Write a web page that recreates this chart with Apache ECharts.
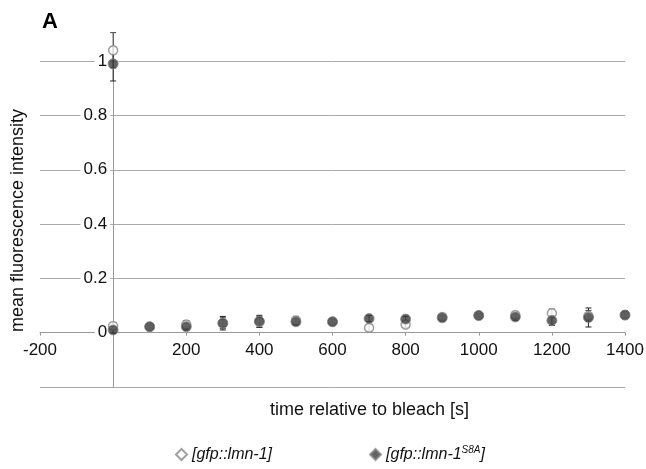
<!DOCTYPE html>
<html>
<head>
<meta charset="utf-8">
<script src="https://cdn.jsdelivr.net/npm/echarts@6/dist/echarts.min.js"></script>
<style>html,body{margin:0;padding:0;background:#fff;}#chart{width:646px;height:469px;}</style>
</head>
<body>
<div id="chart"></div>
<script>
// time points (first two both at 0: pre-bleach and post-bleach)
var times = [0, 0, 100, 200, 300, 400, 500, 600, 700, 800, 900, 1000, 1100, 1200, 1300, 1400];
var lmn1Values = [1.04, 0.025, 0.022, 0.03, 0.035, 0.04, 0.045, 0.04, 0.018, 0.03, 0.058, 0.063, 0.065, 0.072, 0.062, 0.065];
var lmn1Errors = [0.065, 0.012, 0.006, 0.015, 0.02, 0.02, 0.015, 0.008, 0.012, 0.01, 0.008, 0.006, 0.012, 0.015, 0.02, 0.01];
var s8aValues = [0.99, 0.01, 0.022, 0.022, 0.035, 0.042, 0.04, 0.04, 0.052, 0.05, 0.055, 0.063, 0.058, 0.045, 0.056, 0.065];
var s8aErrors = [0.063, 0.012, 0.005, 0.012, 0.025, 0.022, 0.012, 0.008, 0.012, 0.01, 0.008, 0.006, 0.012, 0.018, 0.035, 0.015];
var seriesNames = ['[gfp::lmn-1]', '[gfp::lmn-1S8A]'];
var xTickLabels = ['-200', '200', '400', '600', '800', '1000', '1200', '1400'];
var yTickLabels = ['0', '0.2', '0.4', '0.6', '0.8', '1'];

var FONT = 'Liberation Sans, Arial, Helvetica, sans-serif';

function pts(vals) { return times.map(function (t, i) { return [t, vals[i]]; }); }
function errPts(vals, errs) { return times.map(function (t, i) { return [t, vals[i] - errs[i], vals[i] + errs[i]]; }); }

function errRender(color) {
  return function (params, api) {
    var x = api.value(0);
    var lo = api.coord([x, api.value(1)]);
    var hi = api.coord([x, api.value(2)]);
    var w = 3;
    var st = { stroke: color, lineWidth: 1 };
    return {
      type: 'group',
      children: [
        { type: 'line', shape: { x1: lo[0], y1: lo[1], x2: hi[0], y2: hi[1] }, style: st },
        { type: 'line', shape: { x1: lo[0] - w, y1: lo[1], x2: lo[0] + w, y2: lo[1] }, style: st },
        { type: 'line', shape: { x1: hi[0] - w, y1: hi[1], x2: hi[0] + w, y2: hi[1] }, style: st }
      ]
    };
  };
}

var GRID = { left: 40, right: 21, top: 34, bottom: 82 };
var W = 646, H = 469;
// axis offsets so that each axis sits at the other axis' zero
var xMin = -200, xMax = 1400, yMin = -0.2, yMax = 1.1;
var yAxisOffset = -((0 - xMin) / (xMax - xMin)) * (W - GRID.left - GRID.right);
var xAxisOffset = -((0 - yMin) / (yMax - yMin)) * (H - GRID.top - GRID.bottom);

var chart = echarts.init(document.getElementById('chart'), null, { renderer: 'canvas' });
chart.setOption({
  backgroundColor: '#fff',
  animation: false,
  textStyle: { fontFamily: FONT },
  title: { text: 'A', left: 37, top: 6, textStyle: { fontSize: 22, fontWeight: 'bold', color: '#000', fontFamily: FONT } },
  grid: { left: GRID.left, right: GRID.right, top: GRID.top, bottom: GRID.bottom, containLabel: false, outerBoundsMode: 'none' },
  legend: {
    left: 170, top: 440, itemGap: 97, itemWidth: 11, itemHeight: 11,
    data: [
      { name: seriesNames[0], icon: 'diamond' },
      { name: seriesNames[1], icon: 'diamond' }
    ],
    formatter: function (n) {
      if (n === seriesNames[1]) return '{i|[gfp::lmn-1}{s|S8A}{i|]}';
      return '{i|' + n + '}';
    },
    textStyle: {
      rich: {
        i: { fontSize: 16, fontStyle: 'italic', color: '#111', fontFamily: FONT },
        s: { fontSize: 10, fontStyle: 'italic', color: '#111', fontFamily: FONT, verticalAlign: 'bottom', padding: [0, 0, 9, 0] }
      }
    }
  },
  xAxis: {
    type: 'value', min: xMin, max: xMax, interval: 200,
    position: 'bottom', offset: xAxisOffset,
    name: 'time relative to bleach [s]', nameLocation: 'middle', nameGap: 68,
    nameTextStyle: { fontSize: 18, color: '#111', fontFamily: FONT, padding: [0, 0, 0, 74] },
    axisLine: { onZero: false, lineStyle: { color: '#999', width: 1 } },
    axisTick: { show: true, length: 3, lineStyle: { color: '#999' } },
    axisLabel: {
      fontSize: 17, color: '#111', margin: 9, fontFamily: FONT,
      formatter: function (v) { var s = String(v); return xTickLabels.indexOf(s) >= 0 ? s : ''; }
    },
    splitLine: { show: false }
  },
  yAxis: {
    type: 'value', min: yMin, max: yMax, interval: 0.2,
    position: 'left', offset: yAxisOffset,
    name: 'mean fluorescence intensity', nameLocation: 'middle', nameGap: 86,
    nameTextStyle: { fontSize: 18, color: '#111', fontFamily: FONT, padding: [0, 20, 0, 0] },
    axisLine: { show: true, onZero: false, lineStyle: { color: '#999', width: 1 } },
    axisTick: { show: false },
    axisLabel: {
      fontSize: 17, color: '#111', margin: 3, fontFamily: FONT,
      backgroundColor: '#fff', padding: [0, 3, 0, 3],
      showMinLabel: false, showMaxLabel: false,
      formatter: function (v) { var s = String(Math.round(v * 10) / 10); return yTickLabels.indexOf(s) >= 0 ? s : ''; }
    },
    splitLine: { show: true, showMinLine: true, showMaxLine: false, lineStyle: { color: '#aaa', width: 1 } }
  },
  series: [
    {
      type: 'custom', name: 'err1', renderItem: errRender('#444'), data: errPts(lmn1Values, lmn1Errors),
      encode: { x: 0, y: [1, 2] }, z: 2, silent: true
    },
    {
      type: 'custom', name: 'err2', renderItem: errRender('#222'), data: errPts(s8aValues, s8aErrors),
      encode: { x: 0, y: [1, 2] }, z: 2, silent: true
    },
    {
      type: 'scatter', name: seriesNames[0], data: pts(lmn1Values), symbol: 'circle', symbolSize: 9, z: 3,
      itemStyle: { color: '#fff', borderColor: '#888', borderWidth: 1.5 }
    },
    {
      type: 'scatter', name: seriesNames[1], data: pts(s8aValues), symbol: 'circle', symbolSize: 10, z: 4,
      itemStyle: { color: '#3c3c3c', borderColor: '#888', borderWidth: 1 }
    }
  ]
});
</script>
</body>
</html>
